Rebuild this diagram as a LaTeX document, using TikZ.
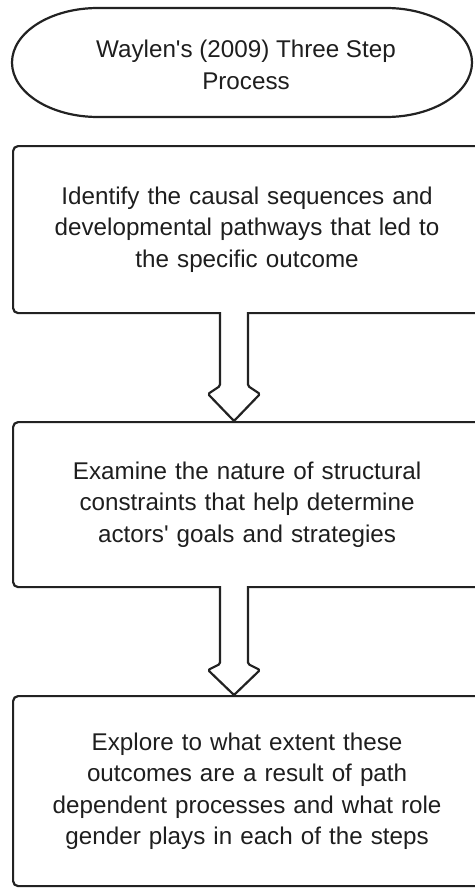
\documentclass[tikz,border=0pt]{standalone}
\usepackage{fontspec}
\setmainfont{Liberation Sans}
\usetikzlibrary{calc}
\definecolor{linec}{HTML}{222222}
\definecolor{textc}{HTML}{1E1E1E}
\tikzset{
  outline/.style={draw=linec, line width=2.2pt, line join=round},
  stepbox/.style={outline, rounded corners=5pt, minimum width=468pt, anchor=north west, inner sep=0pt,
    text width=440pt, align=center, font=\fontsize{24.2}{31.5}\selectfont, text=textc},
  blockarrow/.style={outline, fill=white, rounded corners=1.5pt},
  lbl/.style={align=center, font=\fontsize{24.2}{31.5}\selectfont, text=textc}
}
\begin{document}
\begin{tikzpicture}[x=1pt,y=-1pt]
\useasboundingbox (0,0) rectangle (474,888);
% start shape
\draw[outline] (98,8) -- (386,8) arc[start angle=-90, end angle=90, x radius=86, y radius=54.5]
  -- (98,117) arc[start angle=90, end angle=270, x radius=86, y radius=54.5] -- cycle;
\node[lbl] (start) at (246,65) {Waylen\textquotesingle s (2009) Three Step\\Process};
% boxes
\node[stepbox, minimum height=167pt] (b1) at (12,145) {Identify the causal sequences and\\developmental pathways that led to\\the specific outcome};
\node[stepbox, minimum height=165pt] (b2) at (12,421) {Examine the nature of structural\\constraints that help determine\\actors\textquotesingle\ goals and strategies};
\node[stepbox, minimum height=190pt] (b3) at (12,695) {Explore to what extent these\\outcomes are a result of path\\dependent processes and what role\\gender plays in each of the steps};
% block arrows
\coordinate (a1) at (234,312);
\coordinate (t1) at (234,421);
\draw[blockarrow] ($(a1)+(-14,0)$) -- ($(a1)+(-14,74)$) -- ($(a1)+(-26,82)$) -- (t1) -- ($(a1)+(26,82)$) -- ($(a1)+(14,74)$) -- ($(a1)+(14,0)$);
\coordinate (a2) at (234,586);
\coordinate (t2) at (234,695);
\draw[blockarrow] ($(a2)+(-14,0)$) -- ($(a2)+(-14,78)$) -- ($(a2)+(-26,84)$) -- (t2) -- ($(a2)+(26,84)$) -- ($(a2)+(14,78)$) -- ($(a2)+(14,0)$);
\end{tikzpicture}
\end{document}
